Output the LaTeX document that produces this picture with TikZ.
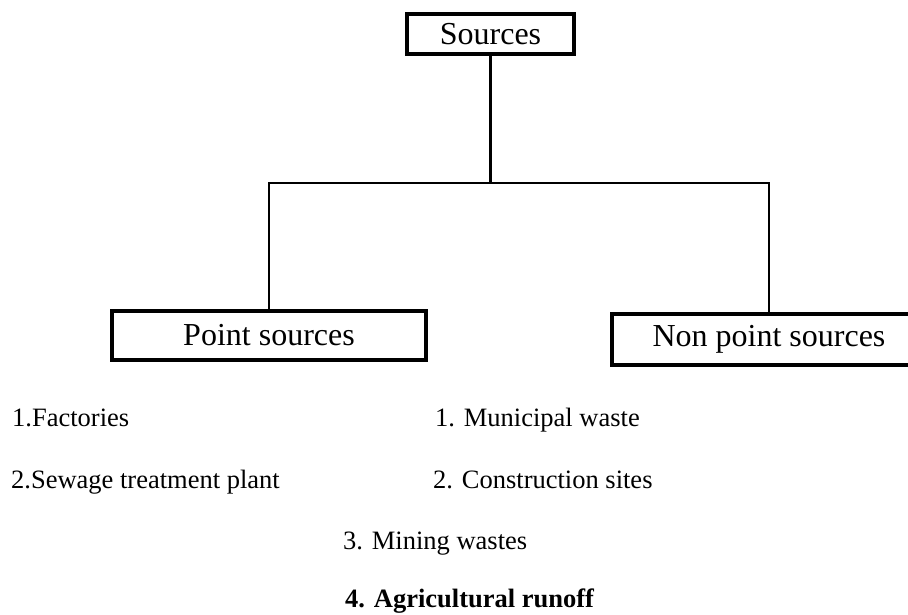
\documentclass[tikz,border=0pt]{standalone}
\usepackage{fontspec}
\setmainfont{Liberation Serif}
\usetikzlibrary{calc}
\def\srcbox{\node[draw=black,line width=4pt,inner sep=0pt,font=\fontsize{32}{36}\selectfont]}
\def\srcitem{\node[anchor=base west,inner sep=0pt,font=\fontsize{26.5}{30}\selectfont]}
\tikzset{wire/.style={draw=black,line width=2.3pt}}

\begin{document}
\begin{tikzpicture}[x=1pt,y=-1pt,auto]
\useasboundingbox (0,0) rectangle (908,614);
\coordinate (o) at (490.5,183); % branch point, the boxes below are relative to (o)

% Top box and the two kinds of sources
\srcbox[minimum width=167pt,minimum height=40pt] (sources) at (490.5,34) {Sources};
\srcbox[minimum width=314pt,minimum height=49pt] (point) at ($ (o) + (-221.5,152.5) $) {Point sources};
\srcbox[minimum width=314pt,minimum height=51pt] (npoint) at ($ (o) + (278.5,156.5) $) {Non point sources};

% The branches
\draw[wire] (sources) -- (o);
\draw[wire] (point.north) |- (o) -| (npoint.north);

% Lists under the boxes
\srcitem (factories) at (12,426) {1.Factories};
\srcitem (sewage) at (11,488) {2.Sewage treatment plant};
\srcitem (municipal) at (435,426) {1. Municipal waste};
\srcitem (construction) at (433,488) {2. Construction sites};
\srcitem (mining) at (343,549) {3. Mining wastes};
\srcitem[font=\fontsize{26.5}{30}\selectfont\bfseries] (runoff) at (345,607) {4. Agricultural runoff};
\end{tikzpicture}
\end{document}
